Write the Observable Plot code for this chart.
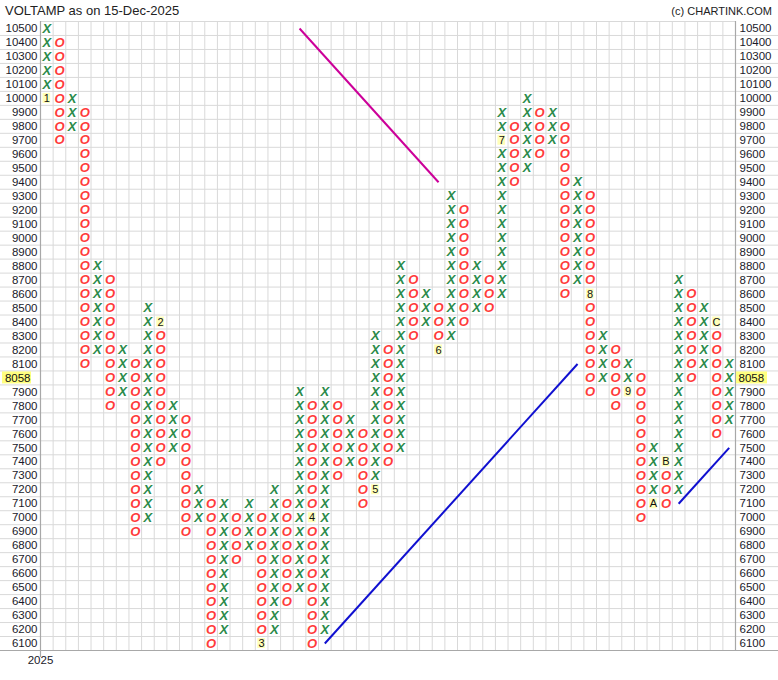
<!DOCTYPE html>
<html><head><meta charset="utf-8">
<script src="https://cdn.jsdelivr.net/npm/d3@7"></script>
<script src="https://cdn.jsdelivr.net/npm/@observablehq/plot@0.6"></script>
<style>
body{margin:0;background:#fff;font-family:Arial,"Liberation Sans",sans-serif;}
#wrap{position:relative;width:778px;height:680px;}
#title{position:absolute;left:5px;top:3px;font-size:13px;color:#222;}
#credit{position:absolute;right:6px;top:5px;font-size:11px;color:#222;}
#wrap svg{position:absolute;left:0;top:0;}
</style></head><body>
<div id="wrap"><div id="title">VOLTAMP as on 15-Dec-2025</div><div id="credit">(c) CHARTINK.COM</div></div>
<script>
// Point & Figure columns (box size 100)
const colType = ["X","O","X","O","X","O","X","O","X","O","X","O","X","O","X","O","X","O","X","O","X","O","X","O","X","O","X","O","X","O","X","O","X","O","X","O","X","O","X","O","X","O","X","O","X","O","X","O","X","O","X","O","X","O","X"];
const colLow  = [10000,9700,9800,8100,8200,7800,7900,6900,7000,7400,7500,6900,7000,6100,6200,6700,6800,6100,6200,6400,6500,6100,6200,7300,7400,7100,7200,7400,7500,8300,8400,8200,8300,8400,8500,8500,8600,9400,9500,9600,9700,8600,8700,7900,8000,7800,7900,7000,7100,7100,7200,8000,8100,7600,7700];
const colHigh = [10500,10400,10000,9900,8800,8700,8200,8100,8500,8400,7800,7700,7200,7100,7100,7000,7100,7000,7200,7100,7900,7800,7900,7800,7700,7600,8300,8200,8800,8700,8600,8500,9300,9200,8800,8700,9900,9800,10000,9900,9900,9800,9400,9300,8300,8200,8100,8000,7500,7400,8700,8600,8500,8400,8100];

// Month markers (replace the box)
const monthCol   = [0,9,17,21,26,31,36,43,46,48,49,53];
const monthPrice = [10000,8400,6100,7000,7200,8200,9700,8600,7900,7100,7400,8400];
const monthLabel = ["1","2","3","4","5","6","7","8","9","A","B","C"];

// Price axis labels
const priceLabels = [10500,10400,10300,10200,10100,10000,9900,9800,9700,9600,9500,9400,9300,9200,9100,9000,8900,8800,8700,8600,8500,8400,8300,8200,8100,8000,7900,7800,7700,7600,7500,7400,7300,7200,7100,7000,6900,6800,6700,6600,6500,6400,6300,6200,6100];
const yearLabel = "2025";
const lastPrice = 8058;

// Trend lines: [col1, price1, col2, price2]
const trendCol1   = [20, 22, 50];
const trendPrice1 = [10500, 6100, 7100];
const trendCol2   = [31, 42, 54];
const trendPrice2 = [9400, 8100, 7500];
const trendColor  = ["#cc0099", "#1010d0", "#1010d0"];

const BOX = 100;
const monthMap = new Map(monthCol.map((c,i)=>[c+"_"+monthPrice[i], monthLabel[i]]));
const boxes = [];
colType.forEach((t,i)=>{
  for (let p = colLow[i]; p <= colHigh[i]; p += BOX) {
    if (!monthMap.has(i+"_"+p)) boxes.push({col:i, price:p, t});
  }
});
const months = monthCol.map((c,i)=>({col:c, price:monthPrice[i], label:monthLabel[i]}));
const trends = trendCol1.map((c,i)=>({x1:c, y1:trendPrice1[i], x2:trendCol2[i], y2:trendPrice2[i], color:trendColor[i]}));
const nCols = colType.length;
const colEdges = d3.range(nCols + 1).map(i => i - 0.5);
const rowEdges = priceLabels.map(p => p - BOX/2);
const topEdge = priceLabels[0] + BOX/2;
const lastBox = Math.floor(lastPrice / BOX) * BOX;
const axisLabels = priceLabels.filter(p => p !== lastBox);

const chart = Plot.plot({
  width: 778, height: 680,
  marginLeft: 40, marginRight: 43, marginTop: 21, marginBottom: 30,
  x: {domain: [-0.5, nCols - 0.5], axis: null},
  y: {domain: [priceLabels[priceLabels.length-1] - BOX/2, topEdge], axis: null},
  style: {fontFamily: "Arial, 'Liberation Sans', sans-serif", background: "#fff", overflow: "visible"},
  marks: [
    Plot.ruleX(colEdges.slice(1, -1), {stroke: "#d9d9d9", strokeWidth: 1}),
    Plot.ruleY(rowEdges.slice(0, -1), {stroke: "#d9d9d9", strokeWidth: 1, insetLeft: -40, insetRight: -43}),
    Plot.ruleY([topEdge], {stroke: "#d9d9d9", strokeWidth: 1}),
    Plot.ruleY([rowEdges[rowEdges.length-1]], {stroke: "#a8a8a8", strokeWidth: 1.2, insetLeft: -40, insetRight: -43}),
    Plot.ruleX([colEdges[0]], {stroke: "#a8a8a8", strokeWidth: 1.2, insetBottom: -7}),
    Plot.ruleX([colEdges[colEdges.length-1]], {stroke: "#a8a8a8", strokeWidth: 1.2}),
    Plot.text(axisLabels, {x: () => -0.5, y: d => d, text: d => String(d), textAnchor: "end", dx: -3, fontSize: 11.5, fill: "#1a1a2a"}),
    Plot.text(axisLabels, {x: () => nCols - 0.5, y: d => d, text: d => String(d), textAnchor: "start", dx: 4, fontSize: 11.5, fill: "#1a1a2a"}),
    Plot.rect([lastBox], {x1: () => -0.5, x2: () => -0.5, y1: d => d - BOX/2, y2: d => d + BOX/2, insetLeft: -38, insetRight: 9, insetTop: 1, insetBottom: 1, fill: "#ffff80"}),
    Plot.rect([lastBox], {x1: () => nCols - 0.5, x2: () => nCols - 0.5, y1: d => d - BOX/2, y2: d => d + BOX/2, insetLeft: 1, insetRight: -32, insetTop: 1, insetBottom: 1, fill: "#ffff80"}),
    Plot.text([lastBox], {x: () => -0.5, y: d => d, text: () => String(lastPrice), textAnchor: "end", dx: -10, fontSize: 11.5, fill: "#111"}),
    Plot.text([lastBox], {x: () => nCols - 0.5, y: d => d, text: () => String(lastPrice), textAnchor: "start", dx: 3, fontSize: 11.5, fill: "#111"}),
    Plot.text([yearLabel], {x: () => -0.5, frameAnchor: "bottom", dy: 13, text: d => d, fontSize: 11.5, fill: "#1a1a2a"}),
    Plot.text(boxes, {x: "col", y: "price", text: "t", fill: d => d.t === "X" ? "#2a8a4a" : "#ff3b3b", fontSize: 13, fontStyle: "italic", fontWeight: "bold"}),
    Plot.rect(months, {x1: d => d.col - 0.5, x2: d => d.col + 0.5, y1: d => d.price - BOX/2, y2: d => d.price + BOX/2, insetLeft: 2.5, insetRight: 2.5, insetTop: 2, insetBottom: 2, fill: "#ffffb8"}),
    Plot.text(months, {x: "col", y: "price", text: "label", fontSize: 11, fill: "#111"}),
    Plot.link(trends, {x1: "x1", y1: "y1", x2: "x2", y2: "y2", stroke: "color", strokeWidth: 2})
  ]
});
document.getElementById("wrap").prepend(chart);
</script>
</body></html>
